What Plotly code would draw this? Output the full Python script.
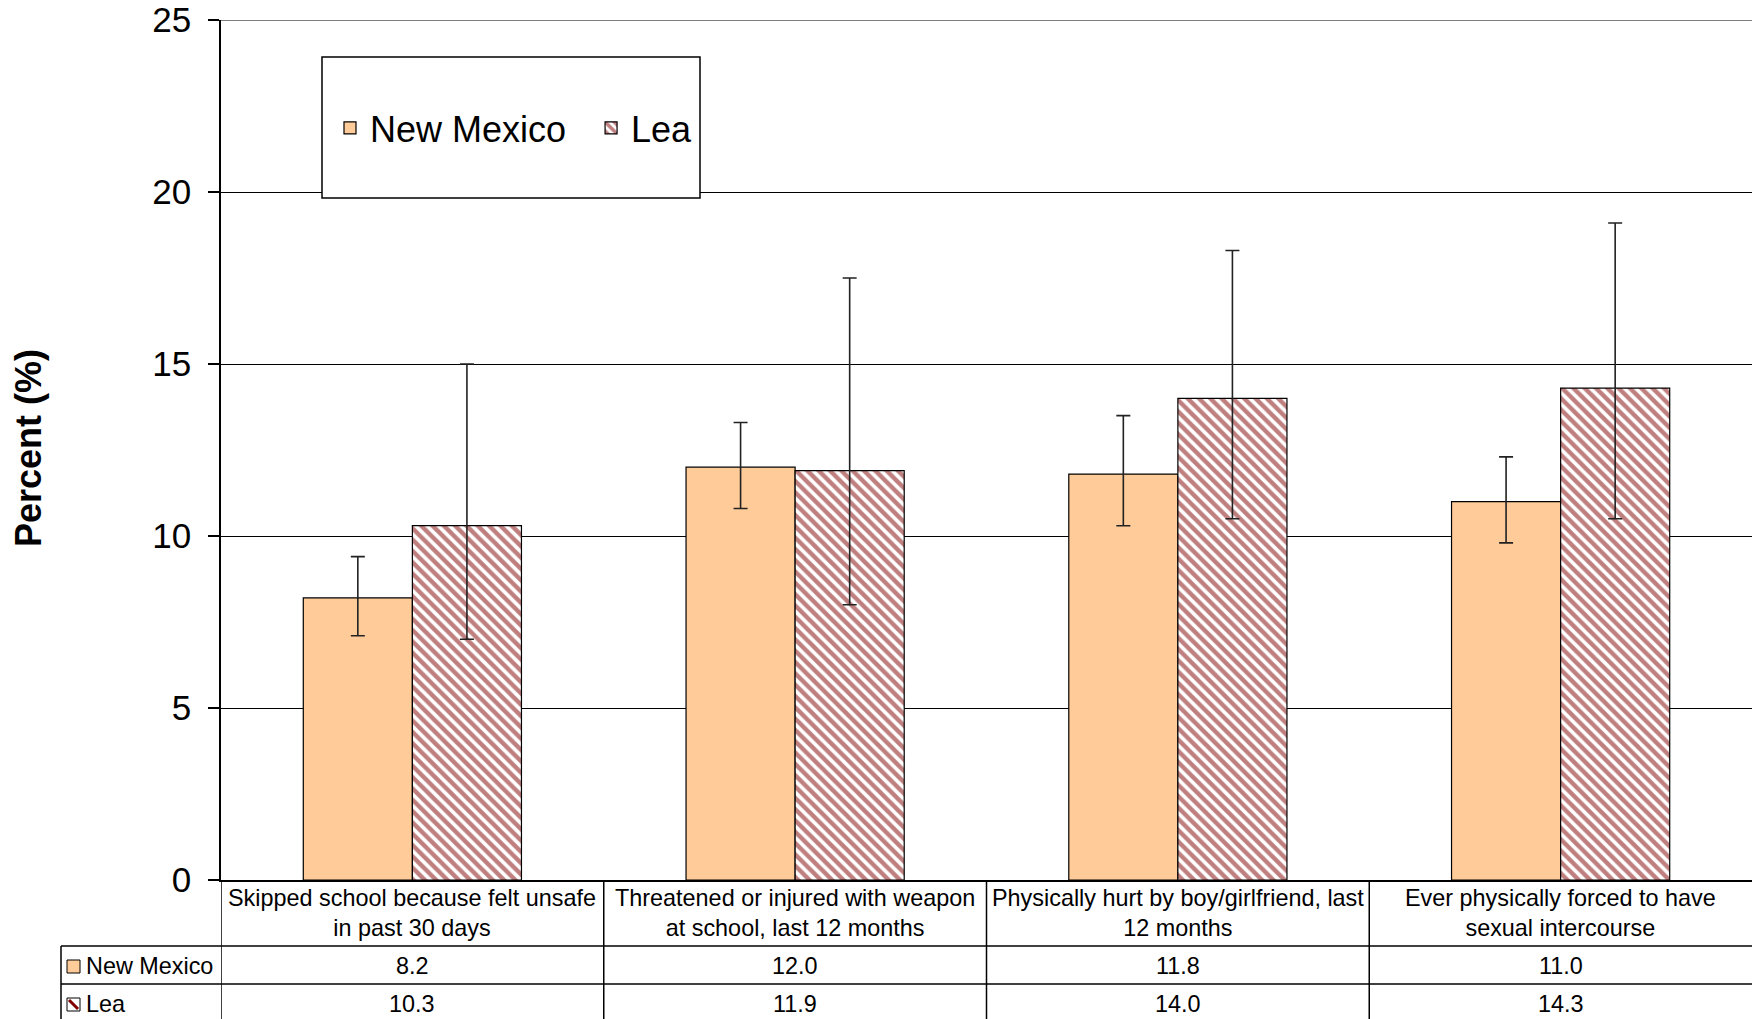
import plotly.graph_objects as go

categories = [
    "Skipped school because felt unsafe<br>in past 30 days",
    "Threatened or injured with weapon<br>at school, last 12 months",
    "Physically hurt by boy/girlfriend, last<br>12 months",
    "Ever physically forced to have<br>sexual intercourse",
]
series_names = ["New Mexico", "Lea"]
nm_values = [8.2, 12.0, 11.8, 11.0]
nm_upper = [9.4, 13.3, 13.5, 12.3]
nm_lower = [7.1, 10.8, 10.3, 9.8]
lea_values = [10.3, 11.9, 14.0, 14.3]
lea_upper = [15.0, 17.5, 18.3, 19.1]
lea_lower = [7.0, 8.0, 10.5, 10.5]
y_ticks = [0, 5, 10, 15, 20, 25]

FONT = "Arial, 'Liberation Sans', sans-serif"
NM_COLOR = "#FFCC99"
LEA_COLOR = "#800000"
NBSP = "\u00a0"

W, H = 1752, 1019
PL, PR, PT, PB = 221, 1752, 20, 880
L, T, R, B = PL, PT, W - PR, H - PB
PW, PH = PR - PL, PB - PT


def px(X):
    return (X - PL) / PW


def py(Y):
    return (PB - Y) / PH


xidx = list(range(len(categories)))

fig = go.Figure()
fig.add_trace(go.Bar(
    x=xidx, y=nm_values, name=series_names[0] + NBSP * 2,
    marker=dict(color=NM_COLOR, line=dict(color="black", width=1.2)),
    error_y=dict(type="data", symmetric=False,
                 array=[u - v for u, v in zip(nm_upper, nm_values)],
                 arrayminus=[v - l for v, l in zip(nm_values, nm_lower)],
                 color="#222222", thickness=1.6, width=7),
))
fig.add_trace(go.Bar(
    x=xidx, y=lea_values, name=series_names[1],
    marker=dict(color="white", line=dict(color="black", width=1.2),
                pattern=dict(shape="\\", fgcolor=LEA_COLOR, bgcolor="white",
                             size=8, solidity=0.55)),
    error_y=dict(type="data", symmetric=False,
                 array=[u - v for u, v in zip(lea_upper, lea_values)],
                 arrayminus=[v - l for v, l in zip(lea_values, lea_lower)],
                 color="#222222", thickness=1.6, width=7),
))

shapes = []
# top gridline (at the upper end of the y range)
shapes.append(dict(type="line", xref="paper", yref="y", x0=0, x1=1,
                   y0=y_ticks[-1], y1=y_ticks[-1], layer="below",
                   line=dict(color="black", width=1.2)))
# legend box
shapes.append(dict(type="rect", xref="paper", yref="paper",
                   x0=px(322), x1=px(700), y0=py(198), y1=py(57),
                   line=dict(color="black", width=1.5), fillcolor="white",
                   layer="above"))

line = dict(color="black", width=1.5)
# table horizontal lines
for Y in (946, 984):
    shapes.append(dict(type="line", xref="paper", yref="paper",
                       x0=px(61), x1=1, y0=py(Y), y1=py(Y), line=line))
# table vertical lines at column boundaries
for k in range(len(categories)):
    xb = k - 0.5
    shapes.append(dict(type="line", xref="x", yref="paper",
                       x0=xb, x1=xb, y0=0, y1=py(1030), line=line))
# left edge of row-label column
shapes.append(dict(type="line", xref="paper", yref="paper",
                   x0=px(61), x1=px(61), y0=py(946), y1=py(1030), line=line))
# row-label swatches
shapes.append(dict(type="rect", xref="paper", yref="paper",
                   x0=px(67), x1=px(80), y0=py(973), y1=py(960),
                   fillcolor=NM_COLOR, line=dict(color="black", width=1)))
shapes.append(dict(type="rect", xref="paper", yref="paper",
                   x0=px(67), x1=px(80), y0=py(1011), y1=py(998),
                   fillcolor="white", line=dict(color="black", width=1)))
shapes.append(dict(type="line", xref="paper", yref="paper",
                   x0=px(69), x1=px(78), y0=py(1000), y1=py(1009),
                   line=dict(color=LEA_COLOR, width=3)))

annotations = []
# y-axis title
annotations.append(dict(text="<b>Percent (%)</b>", xref="paper", yref="paper",
                        x=px(29), y=py(448), xanchor="center", yanchor="middle",
                        textangle=-90, showarrow=False,
                        font=dict(family=FONT, size=36, color="black")))
# category labels and values
for i, cat in enumerate(categories):
    annotations.append(dict(text=cat, xref="x", yref="paper", x=i, y=py(913),
                            xanchor="center", yanchor="middle",
                            showarrow=False, align="center",
                            font=dict(family=FONT, size=23.4, color="black")))
    annotations.append(dict(text=f"{nm_values[i]:.1f}", xref="x", yref="paper",
                            x=i, y=py(966), xanchor="center", yanchor="middle",
                            showarrow=False,
                            font=dict(family=FONT, size=23.4, color="black")))
    annotations.append(dict(text=f"{lea_values[i]:.1f}", xref="x", yref="paper",
                            x=i, y=py(1004), xanchor="center", yanchor="middle",
                            showarrow=False,
                            font=dict(family=FONT, size=23.4, color="black")))
for name, Y in zip(series_names, (966, 1004)):
    annotations.append(dict(text=name, xref="paper", yref="paper", x=px(84),
                            y=py(Y), xanchor="left", yanchor="middle",
                            showarrow=False,
                            font=dict(family=FONT, size=23.4, color="black")))

fig.update_layout(
    width=W, height=H,
    margin=dict(l=L, r=R, t=T, b=B, autoexpand=False),
    paper_bgcolor="white", plot_bgcolor="white",
    barmode="group", bargap=0.43, bargroupgap=0,
    font=dict(family=FONT, color="black"),
    showlegend=True,
    legend=dict(orientation="h", x=px(330), y=py(128), xanchor="left",
                yanchor="middle", bgcolor="rgba(0,0,0,0)", borderwidth=0,
                font=dict(family=FONT, size=36, color="black"),
                itemwidth=30),
    shapes=shapes, annotations=annotations,
    xaxis=dict(range=[-0.5, len(categories) - 0.5], showticklabels=False,
               ticks="", showgrid=False, zeroline=False, showline=True,
               linecolor="black", linewidth=1.5, fixedrange=True),
    yaxis=dict(range=[0, 25], tickvals=y_ticks, ticks="outside", ticklen=11,
               tickcolor="black", tickwidth=1.5, showline=True,
               linecolor="black", linewidth=1.5, showgrid=True,
               gridcolor="black", gridwidth=1.2, zeroline=False,
               ticklabelstandoff=10,
               tickfont=dict(family=FONT, size=35, color="black")),
)

fig.write_html(
    "out.html",
    config={"displayModeBar": False},
    post_script="document.body.style.margin='0';document.body.style.overflow='hidden';",
)
